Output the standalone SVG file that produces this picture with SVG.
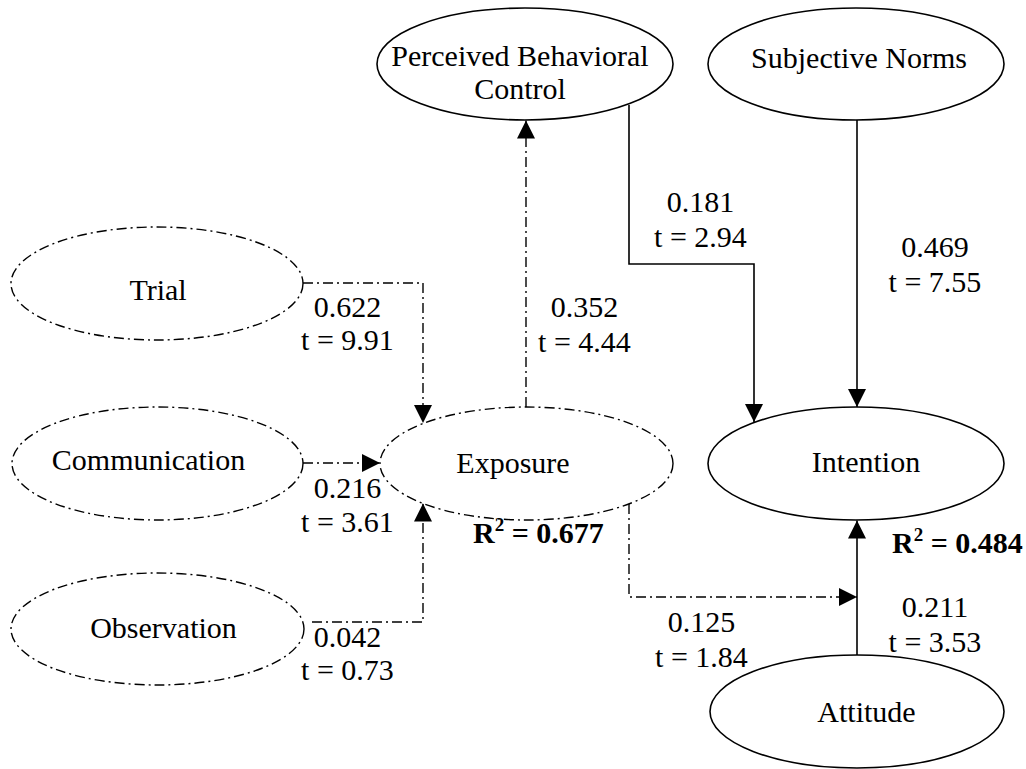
<svg xmlns="http://www.w3.org/2000/svg" width="1026" height="769" viewBox="0 0 1026 769">
<style>
text{font-family:"Liberation Serif","Times New Roman",serif;font-size:30px;fill:#000}
.m{text-anchor:middle}
.b{font-weight:bold}
.solid{fill:#fff;stroke:#000;stroke-width:1.6}
.dd{fill:#fff;stroke:#000;stroke-width:1.4;stroke-dasharray:10 4 2 4}
.cs{fill:none;stroke:#000;stroke-width:1.6}
.cd{fill:none;stroke:#000;stroke-width:1.4;stroke-dasharray:10 4 2 4}
</style>
<defs>
<marker id="arr" markerUnits="userSpaceOnUse" markerWidth="18" markerHeight="18" refX="18" refY="9" orient="auto">
<path d="M0,0 L18,9 L0,18 z" fill="#000"/>
</marker>
</defs>
<rect width="1026" height="769" fill="#fff"/>
<g id="connectors">
<path class="cd" d="M303,283 H423 V423" marker-end="url(#arr)"/>
<path class="cd" d="M303,463 H380" marker-end="url(#arr)"/>
<path class="cd" d="M312,622 H423 V503.5" marker-end="url(#arr)"/>
<path class="cd" d="M526,407 V120.5" marker-end="url(#arr)"/>
<path class="cs" d="M629,105 V264 H754 V422" marker-end="url(#arr)"/>
<path class="cs" d="M857,120 V407" marker-end="url(#arr)"/>
<path class="cd" d="M629,504 V597 H857" marker-end="url(#arr)"/>
<path class="cs" d="M857,655 V520.5" marker-end="url(#arr)"/>
</g>
<g id="pbc">
<ellipse class="solid" cx="525" cy="64" rx="148" ry="56"/>
<text class="m" x="520" y="66">Perceived Behavioral</text>
<text class="m" x="520" y="99">Control</text>
</g>
<g id="sn">
<ellipse class="solid" cx="856" cy="64" rx="148" ry="56"/>
<text class="m" x="859" y="68">Subjective Norms</text>
</g>
<g id="trial">
<ellipse class="dd" cx="157" cy="283.5" rx="146" ry="56.5"/>
<text class="m" x="158" y="300">Trial</text>
</g>
<g id="communication">
<ellipse class="dd" cx="157.5" cy="463.5" rx="145.5" ry="56.5"/>
<text class="m" x="148.5" y="470">Communication</text>
</g>
<g id="observation">
<ellipse class="dd" cx="157.5" cy="629" rx="146.5" ry="56"/>
<text class="m" x="163.5" y="638">Observation</text>
</g>
<g id="exposure">
<ellipse class="dd" cx="526.5" cy="463.5" rx="146.5" ry="56.5"/>
<text class="m" x="513" y="473">Exposure</text>
</g>
<g id="intention">
<ellipse class="solid" cx="856" cy="463.5" rx="148" ry="56.5"/>
<text class="m" x="866" y="472">Intention</text>
</g>
<g id="attitude">
<ellipse class="solid" cx="857" cy="711.5" rx="147" ry="56.5"/>
<text class="m" x="866.5" y="722">Attitude</text>
</g>
<g id="labels">
<text class="m" x="347.5" y="317">0.622</text>
<text class="m" x="347.5" y="350">t = 9.91</text>
<text class="m" x="347.5" y="498">0.216</text>
<text class="m" x="347.5" y="532">t = 3.61</text>
<text class="m" x="347.5" y="647">0.042</text>
<text class="m" x="347.5" y="680">t = 0.73</text>
<text class="m" x="584.5" y="317">0.352</text>
<text class="m" x="584.5" y="352">t = 4.44</text>
<text class="m" x="700.5" y="212">0.181</text>
<text class="m" x="700.5" y="247">t = 2.94</text>
<text class="m" x="935" y="257">0.469</text>
<text class="m" x="935" y="292">t = 7.55</text>
<text class="m" x="701.5" y="632">0.125</text>
<text class="m" x="701.5" y="667">t = 1.84</text>
<text class="m" x="935" y="617">0.211</text>
<text class="m" x="935" y="652">t = 3.53</text>
<text class="b" x="473" y="543">R<tspan font-size="19" dy="-12">2</tspan><tspan dy="12"> = 0.677</tspan></text>
<text class="b" x="892" y="553">R<tspan font-size="19" dy="-12">2</tspan><tspan dy="12"> = 0.484</tspan></text>
</g>
</svg>
